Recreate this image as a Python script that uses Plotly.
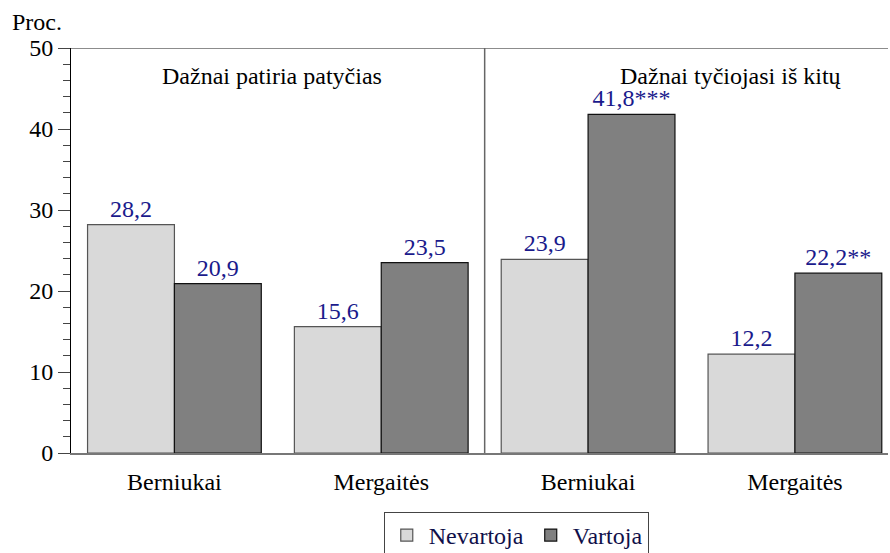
import plotly.graph_objects as go

groups = ["Berniukai", "Mergaitės", "Berniukai", "Mergaitės"]
nevartoja = [28.2, 15.6, 23.9, 12.2]
vartoja = [20.9, 23.5, 41.8, 22.2]
nevartoja_labels = ["28,2", "15,6", "23,9", "12,2"]
vartoja_labels = ["20,9", "23,5", "41,8***", "22,2**"]
panel_titles = ["Dažnai patiria patyčias", "Dažnai tyčiojasi iš kitų"]
y_ticks = [0, 10, 20, 30, 40, 50]

FONT = "Times New Roman"
LABEL_COLOR = "#1a1a8c"
x = list(range(len(groups)))

fig = go.Figure()
fig.add_trace(go.Bar(
    x=x, y=nevartoja, name="Nevartoja",
    marker=dict(color="#d9d9d9", line=dict(color="#555555", width=1.2)),
    text=nevartoja_labels, textposition="outside", cliponaxis=False,
    constraintext="none",
    textfont=dict(family=FONT, size=24, color=LABEL_COLOR),
))
fig.add_trace(go.Bar(
    x=x, y=vartoja, name="Vartoja",
    marker=dict(color="#808080", line=dict(color="#111111", width=1.2)),
    text=vartoja_labels, textposition="outside", cliponaxis=False,
    constraintext="none",
    textfont=dict(family=FONT, size=24, color=LABEL_COLOR),
))

fig.update_layout(
    width=890, height=553,
    margin=dict(l=71, r=2, t=48, b=100, autoexpand=False),
    paper_bgcolor="white", plot_bgcolor="white",
    barmode="group", bargap=0.16, bargroupgap=0.0,
    font=dict(family=FONT, size=24, color="black"),
    showlegend=True,
    legend=dict(
        orientation="h", x=0.545, xanchor="center",
        yref="container", y=(553 - 512) / 553, yanchor="top",
        bordercolor="#444444", borderwidth=1,
        font=dict(family=FONT, size=24, color="#10104a"),
        traceorder="normal", itemwidth=34,
    ),
    xaxis=dict(
        range=[-0.5, 3.45], tickvals=x, ticktext=groups,
        showline=True, linecolor="#777777", linewidth=2,
        ticks="", showgrid=False, zeroline=False, automargin=False,
        ticklabelstandoff=6,
        tickfont=dict(family=FONT, size=24, color="black"),
    ),
    yaxis=dict(
        range=[0, 50], tickvals=y_ticks,
        showline=True, linecolor="black", linewidth=1,
        ticks="outside", ticklen=12, tickcolor="#444444", tickwidth=1,
        minor=dict(dtick=2, ticks="outside", ticklen=7, tickcolor="#444444", showgrid=False),
        showgrid=False, zeroline=False, automargin=False,
        tickfont=dict(family=FONT, size=24, color="black"),
    ),
)

fig.add_shape(type="line", xref="paper", yref="y", x0=0, x1=1, y0=50, y1=50,
              line=dict(color="#666666", width=1.5))
fig.add_shape(type="line", xref="x", yref="y", x0=1.5, x1=1.5, y0=0, y1=50,
              line=dict(color="#666666", width=1.5))

fig.add_annotation(x=0.47, y=46.6, xref="x", yref="y", text=panel_titles[0],
                   showarrow=False, font=dict(family=FONT, size=24, color="black"))
fig.add_annotation(x=2.69, y=46.6, xref="x", yref="y", text=panel_titles[1],
                   showarrow=False, font=dict(family=FONT, size=24, color="black"))
fig.add_annotation(x=-0.075, y=1.064, xref="paper", yref="paper", text="Proc.",
                   xanchor="left", yanchor="middle", showarrow=False,
                   font=dict(family=FONT, size=24, color="black"))

fig.write_html("out.html", config={"displayModeBar": False},
               post_script="document.body.style.margin='0';document.body.style.overflow='hidden';")
